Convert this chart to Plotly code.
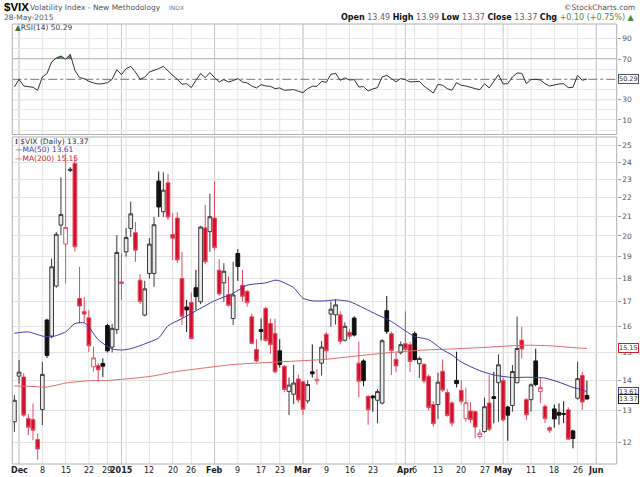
import math
import pandas as pd
import plotly.graph_objects as go

# ---------------- data ----------------
holidays = ["2014-12-25", "2015-01-01", "2015-01-19", "2015-02-16", "2015-04-03", "2015-05-25"]
axis_start, axis_end, last_day = "2014-11-28", "2015-06-05", "2015-05-28"

opens = [12.64, 14.15, 14.12, 12.74, 12.71, 12.10, 13.03, 16.25, 15.62, 17.67,
         20.54, 19.60, 23.50, 23.92, 17.14, 16.59, 16.34, 14.48, 14.52, 14.60,
         16.03, 15.20, 15.87, 17.85, 19.23, 20.37, 20.16, 17.93, 16.45, 18.23,
         18.23, 22.90, 21.23, 22.80, 20.07, 20.90, 18.00, 16.78, 16.97, 17.60,
         17.00, 20.40, 20.21, 20.90, 18.38, 17.81, 17.30, 16.31, 19.15, 17.71,
         17.44, 16.38, 15.11, 15.87, 16.72, 16.11, 15.72, 15.06, 14.50, 13.62,
         13.53, 14.05, 13.95, 13.31, 14.30, 13.98, 14.61, 15.69, 16.49, 16.46,
         16.46, 15.46, 15.77, 16.33, 14.61, 14.69, 13.46, 13.47, 13.33, 13.24,
         16.63, 15.71, 14.75, 14.99, 15.33, 15.29, 15.71, 14.59, 14.57, 14.14,
         13.19, 13.19, 14.32, 13.59, 13.24, 14.00, 13.66, 12.74, 12.98, 12.96,
         12.19, 12.34, 13.24, 13.45, 13.92, 14.00, 13.11, 13.16, 13.92, 15.46,
         13.35, 13.35, 14.69, 13.62, 13.13, 12.46, 13.05, 12.94, 12.90, 13.02,
         12.36, 13.40, 14.17, 13.49]
highs = [13.50, 14.72, 14.25, 12.88, 13.22, 12.28, 14.66, 16.30, 18.92, 20.20,
         23.11, 24.50, 23.70, 24.30, 18.53, 17.20, 16.65, 15.22, 14.60, 14.78,
         16.10, 16.10, 20.04, 19.15, 20.40, 21.77, 20.70, 18.20, 17.90, 19.90,
         20.96, 23.45, 23.40, 23.30, 21.16, 21.20, 19.23, 17.08, 17.40, 18.39,
         20.50, 21.58, 22.20, 22.87, 18.88, 18.70, 18.10, 18.76, 19.35, 18.39,
         17.50, 16.50, 15.50, 16.31, 16.80, 16.30, 16.30, 15.50, 14.55, 14.10,
         14.55, 14.20, 14.00, 14.00, 15.30, 14.40, 15.43, 15.77, 17.00, 17.10,
         16.60, 16.16, 15.90, 16.40, 15.41, 14.75, 13.50, 13.50, 13.70, 15.50,
         17.24, 15.80, 15.00, 15.41, 16.60, 15.40, 15.80, 14.85, 14.60, 14.20,
         13.30, 14.27, 14.74, 13.70, 13.30, 15.03, 14.00, 13.75, 13.27, 13.00,
         12.40, 13.42, 14.19, 14.30, 14.93, 14.10, 13.15, 14.54, 16.39, 15.98,
         13.40, 13.90, 15.14, 14.08, 13.20, 12.50, 13.19, 13.23, 13.30, 13.10,
         12.40, 14.66, 14.30, 13.99]
lows = [12.33, 13.89, 12.80, 12.23, 12.08, 11.51, 12.54, 14.80, 15.53, 17.60,
        20.04, 17.78, 23.40, 19.24, 16.11, 16.15, 15.02, 14.30, 13.96, 14.12,
        15.00, 15.00, 15.70, 17.08, 19.00, 19.95, 18.76, 16.90, 16.40, 18.00,
        17.64, 20.96, 20.96, 20.80, 18.83, 18.70, 16.05, 15.78, 15.50, 16.65,
        16.90, 18.65, 19.23, 19.31, 17.25, 17.00, 16.80, 16.05, 17.90, 17.00,
        16.80, 15.30, 14.65, 15.45, 15.40, 14.95, 14.25, 14.45, 13.60, 12.85,
        13.20, 13.25, 12.86, 13.23, 14.10, 13.85, 14.17, 14.74, 15.98, 16.07,
        15.30, 15.41, 15.50, 15.60, 13.42, 13.80, 12.55, 12.96, 12.59, 13.20,
        15.70, 14.19, 14.30, 14.93, 15.00, 14.30, 14.70, 14.08, 13.90, 13.00,
        12.49, 12.73, 13.60, 12.80, 12.50, 13.76, 13.20, 12.64, 12.60, 12.14,
        12.12, 12.30, 12.35, 12.59, 12.64, 12.65, 12.06, 12.96, 13.90, 14.78,
        12.70, 12.96, 13.80, 13.23, 12.60, 12.30, 12.46, 12.55, 12.60, 12.10,
        11.84, 13.35, 13.02, 13.37]
closes = [13.33, 14.29, 12.85, 12.47, 12.38, 11.82, 14.21, 14.89, 18.53, 20.08,
          21.08, 20.42, 23.58, 19.47, 16.82, 16.49, 15.25, 14.80, 14.37, 14.50,
          15.06, 15.92, 19.20, 17.79, 19.92, 21.12, 19.31, 17.01, 17.55, 19.60,
          20.56, 21.48, 22.39, 20.95, 19.89, 18.85, 16.40, 16.66, 15.52, 17.22,
          20.44, 18.76, 20.97, 19.43, 17.33, 18.33, 16.85, 17.29, 18.55, 17.23,
          16.96, 15.34, 14.69, 15.80, 15.45, 15.29, 14.30, 14.56, 13.69, 13.84,
          13.91, 13.34, 13.04, 13.86, 14.23, 14.04, 15.20, 15.06, 16.69, 16.87,
          15.42, 16.00, 15.61, 15.66, 13.97, 13.99, 13.02, 13.41, 13.62, 15.44,
          15.80, 15.07, 14.51, 15.29, 15.11, 14.67, 14.74, 14.78, 13.98, 13.09,
          12.58, 13.94, 13.67, 12.84, 12.60, 13.89, 13.30, 13.25, 12.71, 12.48,
          12.29, 13.12, 12.41, 13.39, 14.55, 12.70, 12.85, 14.31, 15.15, 15.13,
          12.86, 13.85, 13.86, 13.76, 12.74, 12.38, 12.73, 12.85, 12.88, 12.11,
          12.13, 14.06, 13.27, 13.37]

ma50_day = [0, 3, 6, 8, 11, 13, 15, 16, 18, 21, 23, 25, 28, 31, 33, 36, 39, 43, 47, 50,
            54, 56, 57, 60, 62, 64, 67, 69, 72, 75, 78, 81, 84, 86, 89, 92, 94, 96, 100,
            103, 107, 110, 114, 117, 120, 122, 123]
ma50_val = [15.73, 15.78, 15.62, 15.59, 15.78, 16.11, 16.14, 15.98, 15.48, 15.13, 15.09,
            15.14, 15.32, 15.55, 16.02, 16.31, 16.62, 17.04, 17.36, 17.71, 17.81, 17.93,
            17.90, 17.60, 17.15, 17.04, 17.04, 17.08, 17.01, 16.74, 16.46, 16.19, 15.82,
            15.60, 15.48, 15.10, 14.91, 14.65, 14.34, 14.19, 14.10, 14.11, 14.08, 13.94,
            13.76, 13.68, 13.61]
ma200_day = [0, 4, 7, 11, 16, 20, 26, 30, 34, 40, 47, 54, 61, 67, 74, 81, 88, 94, 100,
             107, 110, 115, 120, 123]
ma200_val = [13.81, 13.79, 13.77, 13.91, 13.99, 14.00, 14.08, 14.16, 14.29, 14.42, 14.56,
             14.63, 14.69, 14.75, 14.88, 15.00, 15.09, 15.13, 15.18, 15.25, 15.27, 15.25,
             15.18, 15.15]

rsi14 = [42.4, 50.0, 43.4, 42.4, 42.1, 39.2, 52.3, 55.6, 67.1, 71.0,
         73.0, 69.7, 74.6, 58.9, 51.6, 50.7, 48.0, 46.4, 45.4, 45.7,
         46.7, 50.0, 59.5, 54.6, 60.5, 62.8, 57.2, 50.0, 52.0, 57.2,
         58.5, 60.5, 62.8, 57.9, 53.9, 50.0, 45.1, 45.7, 41.8, 49.0,
         55.6, 51.6, 56.6, 51.6, 47.4, 49.7, 47.4, 48.7, 50.7, 47.4,
         46.4, 43.4, 41.5, 44.7, 43.4, 43.1, 40.8, 41.5, 39.2, 39.5,
         39.8, 38.2, 36.9, 40.8, 43.1, 43.1, 48.0, 47.0, 54.9, 55.9,
         49.0, 51.3, 49.3, 49.7, 42.4, 42.8, 38.5, 40.5, 41.8, 52.3,
         53.9, 50.7, 47.4, 50.7, 49.7, 47.4, 47.7, 48.0, 43.4, 39.8,
         36.5, 45.1, 44.1, 40.8, 39.2, 46.7, 44.1, 43.4, 41.8, 40.8,
         39.8, 45.7, 41.5, 48.0, 54.6, 45.4, 45.7, 52.3, 56.2, 55.9,
         45.7, 49.7, 50.0, 49.3, 45.7, 43.4, 44.7, 45.4, 45.7, 41.8,
         42.1, 53.9, 49.0, 50.29]

tick_dates = ["2014-12-01", "2014-12-08", "2014-12-15", "2014-12-22", "2014-12-29",
              "2015-01-02", "2015-01-12", "2015-01-20", "2015-01-26", "2015-02-02",
              "2015-02-09", "2015-02-17", "2015-02-23", "2015-03-02", "2015-03-09",
              "2015-03-16", "2015-03-23", "2015-04-01", "2015-04-06", "2015-04-13",
              "2015-04-20", "2015-04-27", "2015-05-01", "2015-05-11", "2015-05-18",
              "2015-05-26", "2015-06-01"]
tick_text = ["<b>Dec</b>", "8", "15", "22", "29", "<b>2015</b>", "12", "20", "26", "<b>Feb</b>",
             "9", "17", "23", "<b>Mar</b>", "9", "16", "23", "<b>Apr</b>", "6", "13",
             "20", "27", "<b>May</b>", "11", "18", "26", "<b>Jun</b>"]
price_ticks = [12, 13, 14, 15, 16, 17, 18, 19, 20, 21, 22, 23, 24, 25]
rsi_ticks = [10, 30, 70, 90]

# ---------------- trading-day axis ----------------
all_days = [d for d in pd.bdate_range(axis_start, axis_end) if d.strftime("%Y-%m-%d") not in holidays]
day_str = [d.strftime("%Y-%m-%d") for d in all_days]
n = day_str.index(last_day) + 1
xs = list(range(n))
tick_pos = [day_str.index(t) for t in tick_dates]
week_lines, month_lines = [], []
for i in range(1, len(all_days)):
    a, b = all_days[i - 1], all_days[i]
    if b.weekday() < a.weekday() or (b - a).days > 3:
        week_lines.append(i)
    if b.month != a.month:
        month_lines.append(i)

W, H = 640, 477
px = lambda v: v / W
py = lambda v: 1 - v / H
X0, X1 = 12.3, 616.7
MAIN = [py(464), py(137)]
RSI = [py(134.5), py(24)]
FONT = "DejaVu Sans"
RED = "#d3102a"

fig = go.Figure()

# gridlines
shapes = []
for i in week_lines:
    for ref in ("y domain", "y2 domain"):
        shapes.append(dict(type="line", xref="x", yref=ref, x0=i, x1=i, y0=0, y1=1,
                           line=dict(color="#e3e3e3", width=1), layer="below"))
for i in month_lines:
    for ref in ("y domain", "y2 domain"):
        shapes.append(dict(type="line", xref="x", yref=ref, x0=i, x1=i, y0=0, y1=1,
                           line=dict(color="#c6c6c6", width=1), layer="below"))
for lvl, dash, col in ((70, "solid", "#8a8a8a"), (30, "solid", "#8a8a8a"), (50, "dashdot", "#777777")):
    shapes.append(dict(type="line", xref="x domain", yref="y2", x0=0, x1=1, y0=lvl, y1=lvl,
                       line=dict(color=col, width=1, dash=dash), layer="below"))
for dom in (MAIN, RSI):
    shapes.append(dict(type="rect", xref="paper", yref="paper", x0=px(X0), x1=px(X1),
                       y0=dom[0], y1=dom[1], line=dict(color="#b0b0b0", width=1)))

# candles grouped by StockCharts colouring
groups = {"hb": [], "hr": [], "fb": [], "fr": []}
for i in xs:
    prev = closes[i - 1] if i > 0 else opens[i]
    hollow = closes[i] >= opens[i]
    black = closes[i] >= prev
    groups[("h" if hollow else "f") + ("b" if black else "r")].append(i)
styles = {"hb": ("#ececec", "#3a3a3a"), "hr": ("#ffffff", "#e05868"),
          "fb": ("#111111", "#111111"), "fr": (RED, "#e04a60")}
for key, idx in groups.items():
    fill, line = styles[key]
    st = dict(fillcolor=fill, line=dict(color=line, width=1))
    fig.add_trace(go.Candlestick(
        x=idx, open=[opens[i] for i in idx], high=[highs[i] for i in idx],
        low=[lows[i] for i in idx], close=[closes[i] for i in idx],
        increasing=st, decreasing=st, whiskerwidth=0, hoverinfo="skip",
        xaxis="x", yaxis="y"))

fig.add_trace(go.Scatter(x=ma200_day, y=ma200_val, mode="lines", hoverinfo="skip",
                         line=dict(color="#e06a6a", width=1, shape="spline", smoothing=0.6),
                         xaxis="x", yaxis="y"))
fig.add_trace(go.Scatter(x=ma50_day, y=ma50_val, mode="lines", hoverinfo="skip",
                         line=dict(color="#3c3ca8", width=1, shape="spline", smoothing=0.6),
                         xaxis="x", yaxis="y"))

# RSI overbought fill
runs, cur = [], []
for i in range(n - 1):
    a, b = rsi14[i], rsi14[i + 1]
    seg = []
    if a >= 70 and b >= 70:
        seg = [(i, a), (i + 1, b)]
    elif a >= 70 > b:
        seg = [(i, a), (i + (a - 70) / (a - b), 70)]
    elif a < 70 <= b:
        seg = [(i + (70 - a) / (b - a), 70), (i + 1, b)]
    if seg:
        cur.extend(seg)
    elif cur:
        runs.append(cur)
        cur = []
if cur:
    runs.append(cur)
for run in runs:
    rx = [p[0] for p in run] + [run[-1][0], run[0][0]]
    ry = [p[1] for p in run] + [70, 70]
    fig.add_trace(go.Scatter(x=rx, y=ry, mode="lines", fill="toself", fillcolor="#5f8a60",
                             line=dict(width=0), hoverinfo="skip", xaxis="x", yaxis="y2"))
fig.add_trace(go.Scatter(x=xs, y=rsi14, mode="lines", hoverinfo="skip",
                         line=dict(color="#333333", width=1), xaxis="x", yaxis="y2"))

# ---------------- annotations ----------------
ann = []
def txt(x, y, s, size=8, color="#555555", anchor="left", family=FONT):
    ann.append(dict(xref="paper", yref="paper", x=px(x), y=py(y), text=s, showarrow=False,
                    xanchor=anchor, yanchor="middle", font=dict(size=size, color=color, family=family)))

txt(2, 7.5, "<b>$VIX</b>", size=11.5, color="#000000", family="Liberation Sans")
txt(28, 7.5, "Volatility Index - New Methodology", size=7.5, color="#555555")
txt(167, 7.5, "INDX", size=6, color="#777777")
txt(2, 17.5, "28-May-2015", size=7.5, color="#555555")
txt(637, 7.5, "©StockCharts.com", size=7.5, color="#555555", anchor="right")
txt(637, 17.5, "<b>Open</b> <span style='color:#666'>13.49</span> <b>High</b> "
    "<span style='color:#666'>13.99</span> <b>Low</b> <span style='color:#666'>13.37</span> "
    "<b>Close</b> <span style='color:#666'>13.37</span> <b>Chg</b> "
    "<span style='color:#4a8a4a'>+0.10 (+0.75%)</span> <span style='color:#4a8a4a'>▲</span>",
    size=8, color="#111111", anchor="right")
txt(13, 27.5, "<span style='color:#3d6b3d'>▲</span>RSI(14) 50.29", size=7.5, color="#444444")
txt(13, 141.5, "<b>⁞</b> $VIX (Daily) 13.37", size=7.5, color="#333333")
txt(13, 150, "—MA(50) 13.61", size=7.5, color="#3c3ca8")
txt(13, 158, "—MA(200) 15.15", size=7.5, color="#d02030")

# x-axis labels placed just under the main panel
for pos, lab in zip(tick_pos, tick_text):
    ann.append(dict(xref="x", yref="paper", x=pos, y=py(470.5), text=lab, showarrow=False,
                    xanchor="center", yanchor="middle",
                    font=dict(size=8, color="#222222", family=FONT)))

def vbox(yval, s, col, yref):
    ann.append(dict(xref="paper", yref=yref, x=px(617.5), y=yval, text=s, showarrow=False,
                    xanchor="left", yanchor="middle", bordercolor=col, borderwidth=1, borderpad=0,
                    bgcolor="#ffffff", font=dict(size=6.5, color="#333333", family=FONT)))
vbox(math.log10(15.15), "15.15", "#d02030", "y")
vbox(math.log10(13.61), "13.61", "#3c3ca8", "y")
vbox(math.log10(13.37), "13.37", "#222222", "y")
vbox(50.29, "50.29", "#555555", "y2")

fig.update_layout(
    width=W, height=H, margin=dict(l=0, r=0, t=0, b=0, autoexpand=False),
    paper_bgcolor="white", plot_bgcolor="white", showlegend=False,
    font=dict(family=FONT, size=8, color="#333333"),
    shapes=shapes, annotations=ann,
    xaxis=dict(domain=[px(X0), px(X1)], range=[-0.45, 129.4], anchor="y", automargin=False,
               tickmode="array", tickvals=tick_pos, showticklabels=False, ticks="",
               showgrid=False, zeroline=False, showline=False,
               rangeslider=dict(visible=False), fixedrange=True),
    yaxis=dict(domain=MAIN, type="log", range=[math.log10(11.39), math.log10(25.53)],
               side="right", automargin=False, tickmode="array", tickvals=price_ticks,
               ticktext=[str(v) for v in price_ticks], tickfont=dict(size=7.5, color="#555555"),
               ticks="outside", ticklen=3, tickcolor="#999999", showgrid=True,
               gridcolor="#e3e3e3", zeroline=False, showline=False),
    yaxis2=dict(domain=RSI, range=[-4.4, 104.5], side="right", anchor="x", automargin=False,
                tickmode="array", tickvals=rsi_ticks, ticktext=[str(v) for v in rsi_ticks],
                tickfont=dict(size=7.5, color="#555555"), ticks="outside", ticklen=3,
                tickcolor="#999999", showgrid=True, gridcolor="#e8e8e8", zeroline=False,
                minor=dict(tickvals=[0, 20, 40, 60, 80], showgrid=True, gridcolor="#e8e8e8", ticks=""),
                showline=False),
    boxgap=0.2, boxgroupgap=0.0,
)
fig.write_html("out.html", config={"displayModeBar": False, "responsive": False},
               post_script="document.body.style.margin='0';document.body.style.padding='0';document.body.style.overflow='hidden';")
